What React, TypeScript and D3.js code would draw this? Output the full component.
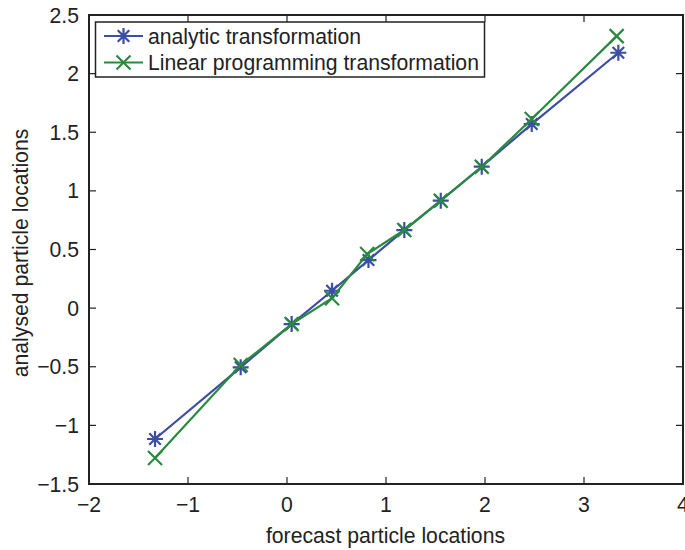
import React, { useEffect, useRef } from 'react';
import * as d3 from 'd3';

// forecast positions (x) and analysed positions (y) for both transformations
const analyticX = [-1.333, -0.468, 0.047, 0.455, 0.823, 1.185, 1.553, 1.967, 2.472, 3.347];
const analyticY = [-1.116, -0.505, -0.136, 0.148, 0.410, 0.666, 0.916, 1.206, 1.570, 2.178];
const lpX = [-1.333, -0.468, 0.047, 0.455, 0.810, 1.185, 1.553, 1.967, 2.472, 3.330];
const lpY = [-1.278, -0.485, -0.136, 0.084, 0.461, 0.666, 0.916, 1.206, 1.613, 2.320];

const xTicks = [-2, -1, 0, 1, 2, 3, 4];
const yTicks = [-1.5, -1, -0.5, 0, 0.5, 1, 1.5, 2, 2.5];
const seriesNames = ['analytic transformation', 'Linear programming transformation'];

const BLUE = '#3b4ea3';
const GREEN = '#2a8a3e';
const FONT = '"Liberation Sans", Arial, Helvetica, sans-serif';
const FS = 21.2;

const App: React.FC = () => {
  const svgRef = useRef<SVGSVGElement>(null);

  useEffect(() => {
    if (!svgRef.current) return;
    const svg = d3.select(svgRef.current);
    svg.selectAll('*').remove();

    const left = 89, right = 683, top = 15, bottom = 484;
    const x = d3.scaleLinear().domain([-2, 4]).range([left, right]);
    const y = d3.scaleLinear().domain([-1.5, 2.5]).range([bottom, top]);

    const fmt = (v: number) => (v < 0 ? '\u2212' + Math.abs(v) : String(v));

    // tick marks (inward, on all four sides)
    const tk = 7;
    const ticks = svg.append('g').attr('stroke', '#222').attr('stroke-width', 1.2);
    xTicks.forEach(t => {
      ticks.append('line').attr('x1', x(t)).attr('x2', x(t)).attr('y1', bottom).attr('y2', bottom - tk);
      ticks.append('line').attr('x1', x(t)).attr('x2', x(t)).attr('y1', top).attr('y2', top + tk);
    });
    yTicks.forEach(t => {
      ticks.append('line').attr('x1', left).attr('x2', left + tk).attr('y1', y(t)).attr('y2', y(t));
      ticks.append('line').attr('x1', right).attr('x2', right - tk).attr('y1', y(t)).attr('y2', y(t));
    });

    // axes box
    svg.append('rect')
      .attr('x', left).attr('y', top)
      .attr('width', right - left).attr('height', bottom - top)
      .attr('fill', 'none').attr('stroke', '#222').attr('stroke-width', 2);

    // tick labels
    svg.append('g').selectAll('text').data(xTicks).enter().append('text')
      .attr('x', d => x(d)).attr('y', 512)
      .attr('text-anchor', 'middle')
      .attr('font-family', FONT).attr('font-size', FS).attr('fill', '#222')
      .text(d => fmt(d));
    svg.append('g').selectAll('text').data(yTicks).enter().append('text')
      .attr('x', 79).attr('y', d => y(d) + 7.5)
      .attr('text-anchor', 'end')
      .attr('font-family', FONT).attr('font-size', FS).attr('fill', '#222')
      .text(d => fmt(d));

    // axis titles
    svg.append('text')
      .attr('x', (left + right) / 2 - 0.5).attr('y', 543)
      .attr('text-anchor', 'middle')
      .attr('font-family', FONT).attr('font-size', FS).attr('fill', '#222')
      .text('forecast particle locations');
    svg.append('text')
      .attr('transform', `translate(28,253) rotate(-90)`)
      .attr('text-anchor', 'middle')
      .attr('font-family', FONT).attr('font-size', FS).attr('fill', '#222')
      .text('analysed particle locations');

    const star = (g: d3.Selection<SVGGElement, unknown, null, undefined>, cx: number, cy: number, color: string) => {
      const r = 8;
      const d = r * 0.72;
      const p = `M${cx - r},${cy}L${cx + r},${cy}M${cx},${cy - r}L${cx},${cy + r}` +
        `M${cx - d},${cy - d}L${cx + d},${cy + d}M${cx - d},${cy + d}L${cx + d},${cy - d}`;
      g.append('path').attr('d', p).attr('stroke', color).attr('stroke-width', 2.2).attr('fill', 'none');
    };
    const cross = (g: d3.Selection<SVGGElement, unknown, null, undefined>, cx: number, cy: number, color: string) => {
      const d = 7;
      const p = `M${cx - d},${cy - d}L${cx + d},${cy + d}M${cx - d},${cy + d}L${cx + d},${cy - d}`;
      g.append('path').attr('d', p).attr('stroke', color).attr('stroke-width', 2.2).attr('fill', 'none');
    };

    const line = d3.line<[number, number]>().x(d => x(d[0])).y(d => y(d[1]));
    const aData = analyticX.map((v, i) => [v, analyticY[i]] as [number, number]);
    const lData = lpX.map((v, i) => [v, lpY[i]] as [number, number]);

    const plot = svg.append('g');
    plot.append('path').datum(aData).attr('d', line)
      .attr('fill', 'none').attr('stroke', BLUE).attr('stroke-width', 2.2);
    aData.forEach(d => star(plot, x(d[0]), y(d[1]), BLUE));
    plot.append('path').datum(lData).attr('d', line)
      .attr('fill', 'none').attr('stroke', GREEN).attr('stroke-width', 2.2);
    lData.forEach(d => cross(plot, x(d[0]), y(d[1]), GREEN));

    // legend
    const lg = svg.append('g');
    lg.append('rect')
      .attr('x', 95.5).attr('y', 22).attr('width', 389).attr('height', 55)
      .attr('fill', 'white').attr('stroke', '#222').attr('stroke-width', 1.5);
    const rows = [36, 62.5];
    const colors = [BLUE, GREEN];
    seriesNames.forEach((name, i) => {
      lg.append('line').attr('x1', 104).attr('x2', 143).attr('y1', rows[i]).attr('y2', rows[i])
        .attr('stroke', colors[i]).attr('stroke-width', 2.2);
      if (i === 0) star(lg, 123.5, rows[i], colors[i]);
      else cross(lg, 123.5, rows[i], colors[i]);
      lg.append('text').attr('x', 148).attr('y', rows[i] + 7.5)
        .attr('font-family', FONT).attr('font-size', FS).attr('fill', '#222')
        .text(name);
    });
  }, []);

  return (
    <svg
      ref={svgRef}
      width={685}
      height={550}
      style={{ position: 'absolute', left: 0, top: 0, background: 'white' }}
    />
  );
};

export default App;
